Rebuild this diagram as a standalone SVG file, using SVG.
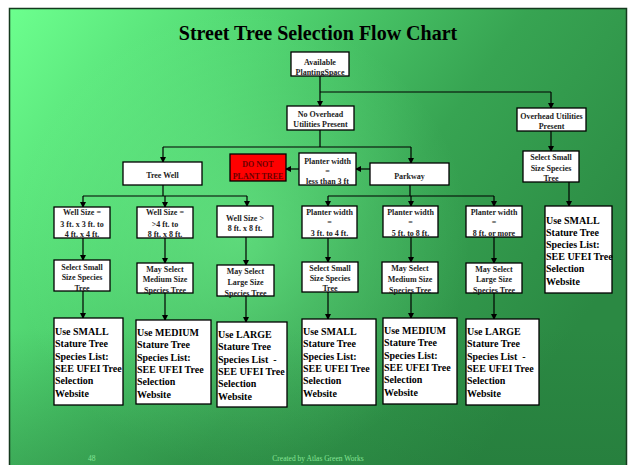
<svg xmlns="http://www.w3.org/2000/svg" width="632" height="465" viewBox="0 0 632 465">
<defs>
<linearGradient id="bg" x1="0" y1="0" x2="1" y2="0.55">
<stop offset="0" stop-color="#6cff8e"/>
<stop offset="0.35" stop-color="#4fd26f"/>
<stop offset="0.65" stop-color="#37a452"/>
<stop offset="1" stop-color="#2b8943"/>
</linearGradient>
<radialGradient id="hl" cx="240" cy="240" r="230" gradientUnits="userSpaceOnUse">
<stop offset="0" stop-color="#7dff9a" stop-opacity="0.45"/>
<stop offset="1" stop-color="#7dff9a" stop-opacity="0"/>
</radialGradient>
<linearGradient id="shade" x1="0" y1="0" x2="0" y2="1">
<stop offset="0.7" stop-color="#1e6a33" stop-opacity="0"/>
<stop offset="1" stop-color="#1e6a33" stop-opacity="0.3"/>
</linearGradient>
<marker id="ah" markerWidth="6" markerHeight="6" refX="5" refY="3" orient="auto" markerUnits="userSpaceOnUse">
<path d="M0,0 L6,3 L0,6 Z" fill="#000"/>
</marker>
<style>
.box{fill:#fff;stroke:#000;stroke-width:1.3}
.red{fill:#ff0000;stroke:#000;stroke-width:1.3}
.s{font-family:"Liberation Serif","Times New Roman",serif;font-weight:bold;font-size:8px;fill:#222;text-anchor:middle}
.r{fill:#6a0000}
.b{font-family:"Liberation Serif","Times New Roman",serif;font-weight:bold;font-size:10px;fill:#000;white-space:pre}
.c{fill:none;stroke:#000;stroke-width:1.2}
.ca{fill:none;stroke:#000;stroke-width:1.2;marker-end:url(#ah)}
</style>
</defs>
<rect x="0" y="0" width="632" height="465" fill="#fff"/>
<rect x="9" y="8" width="618" height="457" fill="url(#bg)"/>
<rect x="9" y="8" width="618" height="457" fill="url(#hl)"/>
<rect x="9" y="8" width="618" height="457" fill="url(#shade)"/>
<rect x="9.5" y="8.5" width="617" height="460" fill="none" stroke="#143a1e" stroke-width="1.5"/>

<text x="318" y="40" font-family="Liberation Serif, Times New Roman, serif" font-weight="bold" font-size="20" text-anchor="middle" fill="#000">Street Tree Selection Flow Chart</text>

<g id="connectors">
<path class="ca" d="M320,76 V106"/>
<path class="c" d="M320,92 H551"/>
<path class="ca" d="M551,92 V108"/>
<path class="ca" d="M551,131 V151"/>
<path class="ca" d="M569,182 V206"/>
<path class="c" d="M320,130 V147"/>
<path class="c" d="M163,147 H411"/>
<path class="ca" d="M163,147 V162"/>
<path class="ca" d="M411,147 V163"/>
<path class="ca" d="M299,169 H286"/>
<path class="ca" d="M370,169 H356"/>
<path class="c" d="M163,185 V196"/>
<path class="c" d="M83,196 H247"/>
<path class="ca" d="M83,196 V207"/>
<path class="ca" d="M165,196 V207"/>
<path class="ca" d="M247,196 V206"/>
<path class="c" d="M410,185 V196"/>
<path class="c" d="M328,196 H494"/>
<path class="ca" d="M328,196 V206"/>
<path class="ca" d="M411,196 V206"/>
<path class="ca" d="M494,196 V206"/>
<path class="ca" d="M83,238 V260"/>
<path class="ca" d="M165,238 V263"/>
<path class="ca" d="M246,237 V265"/>
<path class="ca" d="M328,238 V262"/>
<path class="ca" d="M411,237 V262"/>
<path class="ca" d="M494,237 V263"/>
<path class="ca" d="M83,291 V318"/>
<path class="ca" d="M165,293 V320"/>
<path class="ca" d="M246,296 V322"/>
<path class="ca" d="M328,292 V319"/>
<path class="ca" d="M411,293 V318"/>
<path class="ca" d="M494,293 V319"/>
</g>

<g id="available">
<rect class="box" x="291" y="52" width="58" height="24"/>
<text class="s" x="320" y="65">Available</text>
<text class="s" x="320" y="75">PlantingSpace</text>
</g>
<g id="no-overhead">
<rect class="box" x="287" y="106" width="67" height="24"/>
<text class="s" x="320.5" y="117">No Overhead</text>
<text class="s" x="320.5" y="127">Utilities Present</text>
</g>
<g id="overhead">
<rect class="box" x="517" y="108" width="69" height="23"/>
<text class="s" x="551.5" y="119">Overhead Utilities</text>
<text class="s" x="551.5" y="129">Present</text>
</g>
<g id="select-small-oh">
<rect class="box" x="523" y="151" width="56" height="31"/>
<text class="s" x="551" y="160">Select Small</text>
<text class="s" x="551" y="171">Size Species</text>
<text class="s" x="551" y="181">Tree</text>
</g>
<g id="tree-well">
<rect class="box" x="123" y="162" width="79" height="23"/>
<text class="s" x="162.5" y="178">Tree Well</text>
</g>
<g id="do-not-plant">
<rect class="red" x="230" y="154" width="56" height="27"/>
<text class="s r" x="258" y="167">DO NOT</text>
<text class="s r" x="258" y="179">PLANT TREE</text>
</g>
<g id="planter-less-3">
<rect class="box" x="299" y="153" width="57" height="32"/>
<text class="s" x="327.5" y="164">Planter width</text>
<text class="s" x="327.5" y="174">=</text>
<text class="s" x="327.5" y="184">less than 3 ft</text>
</g>
<g id="parkway">
<rect class="box" x="370" y="163" width="79" height="22"/>
<text class="s" x="409.5" y="179">Parkway</text>
</g>

<g id="well-1">
<rect class="box" x="54" y="207" width="56" height="31"/>
<text class="s" x="82" y="215">Well Size =</text>
<text class="s" x="82" y="227">3 ft. x 3 ft. to</text>
<text class="s" x="82" y="237">4 ft. x 4 ft.</text>
</g>
<g id="well-2">
<rect class="box" x="137" y="207" width="56" height="31"/>
<text class="s" x="165" y="215">Well Size =</text>
<text class="s" x="165" y="227">&gt;4 ft. to</text>
<text class="s" x="165" y="237">8 ft. x 8 ft.</text>
</g>
<g id="well-3">
<rect class="box" x="217" y="206" width="56" height="31"/>
<text class="s" x="245" y="221">Well Size &gt;</text>
<text class="s" x="245" y="231">8 ft. x 8 ft.</text>
</g>
<g id="planter-1">
<rect class="box" x="302" y="206" width="55" height="32"/>
<text class="s" x="329.5" y="215">Planter width</text>
<text class="s" x="329.5" y="225">=</text>
<text class="s" x="329.5" y="236">3 ft. to 4 ft.</text>
</g>
<g id="planter-2">
<rect class="box" x="383" y="206" width="55" height="31"/>
<text class="s" x="410.5" y="215">Planter width</text>
<text class="s" x="410.5" y="225">=</text>
<text class="s" x="410.5" y="236">5 ft. to 8 ft.</text>
</g>
<g id="planter-3">
<rect class="box" x="466" y="206" width="56" height="31"/>
<text class="s" x="494" y="215">Planter width</text>
<text class="s" x="494" y="225">=</text>
<text class="s" x="494" y="236">8 ft. or more</text>
</g>

<g id="sel-l1">
<rect class="box" x="54" y="260" width="56" height="31"/>
<text class="s" x="82" y="270">Select Small</text>
<text class="s" x="82" y="280">Size Species</text>
<text class="s" x="82" y="291">Tree</text>
</g>
<g id="sel-l2">
<rect class="box" x="137" y="263" width="56" height="30"/>
<text class="s" x="165" y="272">May Select</text>
<text class="s" x="165" y="282">Medium Size</text>
<text class="s" x="165" y="293">Species Tree</text>
</g>
<g id="sel-l3">
<rect class="box" x="217" y="265" width="57" height="31"/>
<text class="s" x="245.5" y="274">May Select</text>
<text class="s" x="245.5" y="285">Large Size</text>
<text class="s" x="245.5" y="296">Species Tree</text>
</g>
<g id="sel-r1">
<rect class="box" x="302" y="262" width="56" height="30"/>
<text class="s" x="330" y="271">Select Small</text>
<text class="s" x="330" y="281">Size Species</text>
<text class="s" x="330" y="291">Tree</text>
</g>
<g id="sel-r2">
<rect class="box" x="382" y="262" width="56" height="31"/>
<text class="s" x="410" y="271">May Select</text>
<text class="s" x="410" y="282">Medium Size</text>
<text class="s" x="410" y="293">Species Tree</text>
</g>
<g id="sel-r3">
<rect class="box" x="466" y="263" width="56" height="30"/>
<text class="s" x="494" y="272">May Select</text>
<text class="s" x="494" y="282">Large Size</text>
<text class="s" x="494" y="293">Species Tree</text>
</g>

<g id="use-l1">
<rect class="box" x="54" y="318" width="69" height="87"/>
<text class="b" x="55" y="335">Use SMALL</text>
<text class="b" x="55" y="347.3">Stature Tree</text>
<text class="b" x="55" y="359.6">Species List:</text>
<text class="b" x="55" y="371.9">SEE UFEI Tree</text>
<text class="b" x="55" y="384.2">Selection</text>
<text class="b" x="55" y="396.5">Website</text>
</g>
<g id="use-l2">
<rect class="box" x="136" y="320" width="75" height="84"/>
<text class="b" x="137" y="336">Use MEDIUM</text>
<text class="b" x="137" y="348.3">Stature Tree</text>
<text class="b" x="137" y="360.6">Species List:</text>
<text class="b" x="137" y="372.9">SEE UFEI Tree</text>
<text class="b" x="137" y="385.2">Selection</text>
<text class="b" x="137" y="397.5">Website</text>
</g>
<g id="use-l3">
<rect class="box" x="217" y="322" width="70" height="85"/>
<text class="b" x="218" y="338">Use LARGE</text>
<text class="b" x="218" y="350.3">Stature Tree</text>
<text class="b" x="218" y="362.6">Species List  -</text>
<text class="b" x="218" y="374.9">SEE UFEI Tree</text>
<text class="b" x="218" y="387.2">Selection</text>
<text class="b" x="218" y="399.5">Website</text>
</g>
<g id="use-r1">
<rect class="box" x="302" y="319" width="74" height="86"/>
<text class="b" x="303" y="335">Use SMALL</text>
<text class="b" x="303" y="347.3">Stature Tree</text>
<text class="b" x="303" y="359.6">Species List:</text>
<text class="b" x="303" y="371.9">SEE UFEI Tree</text>
<text class="b" x="303" y="384.2">Selection</text>
<text class="b" x="303" y="396.5">Website</text>
</g>
<g id="use-r2">
<rect class="box" x="383" y="318" width="74" height="86"/>
<text class="b" x="384" y="334">Use MEDIUM</text>
<text class="b" x="384" y="346.3">Stature Tree</text>
<text class="b" x="384" y="358.6">Species List:</text>
<text class="b" x="384" y="370.9">SEE UFEI Tree</text>
<text class="b" x="384" y="383.2">Selection</text>
<text class="b" x="384" y="395.5">Website</text>
</g>
<g id="use-r3">
<rect class="box" x="466" y="319" width="73" height="86"/>
<text class="b" x="467" y="335">Use LARGE</text>
<text class="b" x="467" y="347.3">Stature Tree</text>
<text class="b" x="467" y="359.6">Species List  -</text>
<text class="b" x="467" y="371.9">SEE UFEI Tree</text>
<text class="b" x="467" y="384.2">Selection</text>
<text class="b" x="467" y="396.5">Website</text>
</g>
<g id="use-oh">
<rect class="box" x="545" y="206" width="67" height="87"/>
<text class="b" x="546" y="223.5">Use SMALL</text>
<text class="b" x="546" y="235.7">Stature Tree</text>
<text class="b" x="546" y="247.9">Species List:</text>
<text class="b" x="546" y="260.1">SEE UFEI Tree</text>
<text class="b" x="546" y="272.3">Selection</text>
<text class="b" x="546" y="284.5">Website</text>
</g>

<text x="88" y="461" font-family="Liberation Serif, Times New Roman, serif" font-size="7.5" fill="#86e496">48</text>
<text x="318" y="461" font-family="Liberation Serif, Times New Roman, serif" font-size="7.5" fill="#86e496" text-anchor="middle">Created by Atlas Green Works</text>
</svg>
